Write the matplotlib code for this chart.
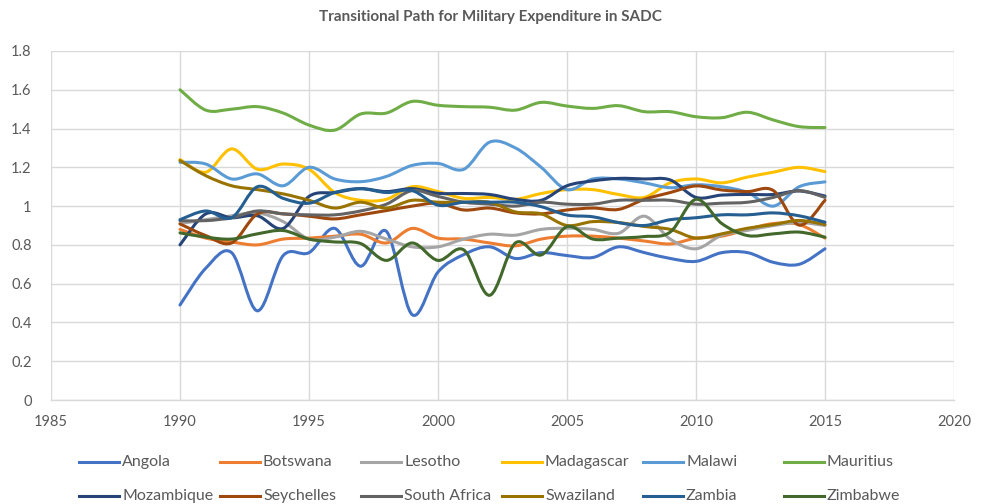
"""Transitional path for military expenditure in SADC (Excel-style smoothed lines)."""

import matplotlib
matplotlib.use("Agg")
import matplotlib.pyplot as plt
from matplotlib.path import Path
from matplotlib.patches import PathPatch
from matplotlib.lines import Line2D
import numpy as np

plt.rcParams["font.family"] = ["Lato", "DejaVu Sans"]

years = list(range(1990, 2016))

angola = [0.49, 0.68, 0.76, 0.46, 0.745, 0.76, 0.885, 0.69, 0.87, 0.44, 0.66, 0.75, 0.79,
          0.73, 0.76, 0.745, 0.735, 0.79, 0.76, 0.73, 0.715, 0.76, 0.76, 0.71, 0.70, 0.78]
botswana = [0.88, 0.835, 0.815, 0.80, 0.83, 0.835, 0.845, 0.855, 0.81, 0.885, 0.835, 0.83, 0.81,
            0.795, 0.83, 0.845, 0.845, 0.835, 0.82, 0.805, 0.835, 0.845, 0.88, 0.91, 0.905, 0.835]
lesotho = [0.91, 0.93, 0.95, 0.965, 0.92, 0.83, 0.84, 0.87, 0.83, 0.79, 0.79, 0.83, 0.855,
           0.85, 0.88, 0.886, 0.88, 0.86, 0.948, 0.83, 0.78, 0.85, 0.875, 0.90, 0.915, 0.90]
madagascar = [1.24, 1.175, 1.295, 1.19, 1.217, 1.19, 1.07, 1.03, 1.035, 1.10, 1.075, 1.04, 1.045,
              1.035, 1.065, 1.085, 1.085, 1.06, 1.045, 1.12, 1.14, 1.12, 1.15, 1.175, 1.20, 1.178]
malawi = [1.226, 1.217, 1.14, 1.166, 1.105, 1.20, 1.14, 1.126, 1.153, 1.21, 1.22, 1.19, 1.33,
          1.30, 1.20, 1.085, 1.14, 1.14, 1.12, 1.095, 1.11, 1.10, 1.07, 1.0, 1.10, 1.125]
mauritius = [1.60, 1.495, 1.50, 1.513, 1.48, 1.418, 1.392, 1.475, 1.48, 1.54, 1.52, 1.513, 1.51,
             1.495, 1.535, 1.516, 1.504, 1.518, 1.487, 1.487, 1.461, 1.456, 1.484, 1.444, 1.41, 1.405]
mozambique = [0.80, 0.96, 0.94, 0.95, 0.885, 1.05, 1.07, 1.09, 1.075, 1.09, 1.066, 1.065, 1.06,
              1.035, 1.03, 1.105, 1.13, 1.143, 1.14, 1.135, 1.045, 1.057, 1.06, 1.06, 1.078, 1.052]
seychelles = [0.908, 0.848, 0.81, 0.96, 0.96, 0.948, 0.934, 0.955, 0.977, 1.0, 1.015, 0.98, 0.99,
              0.965, 0.96, 0.98, 0.99, 0.983, 1.035, 1.07, 1.104, 1.083, 1.075, 1.08, 0.902, 1.03]
south_africa = [0.925, 0.925, 0.94, 0.975, 0.96, 0.955, 0.955, 0.975, 1.01, 1.08, 1.05, 1.02, 1.01,
                1.0, 1.02, 1.01, 1.01, 1.03, 1.03, 1.03, 1.01, 1.015, 1.02, 1.045, 1.08, 1.045]
swaziland = [1.235, 1.157, 1.105, 1.085, 1.063, 1.03, 0.99, 1.02, 0.99, 1.03, 1.02, 1.02, 1.02,
             0.97, 0.96, 0.90, 0.92, 0.915, 0.895, 0.88, 0.835, 0.857, 0.886, 0.905, 0.926, 0.905]
zambia = [0.93, 0.975, 0.94, 1.10, 1.04, 1.015, 1.07, 1.09, 1.07, 1.08, 1.005, 1.02, 1.02,
          1.02, 0.997, 0.954, 0.945, 0.915, 0.90, 0.93, 0.94, 0.955, 0.955, 0.965, 0.95, 0.917]
zimbabwe = [0.862, 0.84, 0.83, 0.857, 0.874, 0.83, 0.815, 0.807, 0.72, 0.81, 0.72, 0.774, 0.54,
            0.81, 0.748, 0.894, 0.83, 0.835, 0.843, 0.866, 1.035, 0.91, 0.848, 0.857, 0.866, 0.84]

countries = ["Angola", "Botswana", "Lesotho", "Madagascar", "Malawi", "Mauritius",
             "Mozambique", "Seychelles", "South Africa", "Swaziland", "Zambia", "Zimbabwe"]
series = [angola, botswana, lesotho, madagascar, malawi, mauritius,
          mozambique, seychelles, south_africa, swaziland, zambia, zimbabwe]
colors = ["#4472C4", "#ED7D31", "#A5A5A5", "#FFC000", "#5B9BD5", "#70AD47",
          "#264478", "#9E480E", "#636363", "#997300", "#255E91", "#43682B"]

x_ticks = [1985, 1990, 1995, 2000, 2005, 2010, 2015, 2020]
y_ticks = [0, 0.2, 0.4, 0.6, 0.8, 1.0, 1.2, 1.4, 1.6, 1.8]
y_tick_labels = ["0", "0.2", "0.4", "0.6", "0.8", "1", "1.2", "1.4", "1.6", "1.8"]

GRID = "#D9D9D9"
TEXT = "#595959"


def smooth_path(xs, ys):
    """Bezier path through the points, like Excel's 'smoothed line'."""
    pts = np.column_stack([xs, ys]).astype(float)
    n = len(pts)
    verts = [pts[0]]
    codes = [Path.MOVETO]
    for i in range(n - 1):
        p0 = pts[max(i - 1, 0)]
        p1 = pts[i]
        p2 = pts[i + 1]
        p3 = pts[min(i + 2, n - 1)]
        c1 = p1 + (p2 - p0) / 6.0
        c2 = p2 - (p3 - p1) / 6.0
        verts += [c1, c2, p2]
        codes += [Path.CURVE4] * 3
    return Path(verts, codes)


W, H = 981, 504
fig = plt.figure(figsize=(W / 100, H / 100), dpi=100)
fig.patch.set_facecolor("white")
ax = fig.add_axes([51 / W, 1 - 400 / H, (954 - 51) / W, (400 - 51) / H])

for vals, color in zip(series, colors):
    patch = PathPatch(smooth_path(years, vals), facecolor="none", edgecolor=color,
                      linewidth=2.2, capstyle="round", joinstyle="round", zorder=3)
    ax.add_patch(patch)

ax.set_xlim(1985, 2020)
ax.set_ylim(0, 1.8)
ax.set_xticks(x_ticks)
ax.set_xticklabels([str(t) for t in x_ticks])
ax.set_yticks(y_ticks)
ax.set_yticklabels(y_tick_labels)
ax.tick_params(length=0, labelsize=10.5, labelcolor=TEXT)
ax.tick_params(axis="x", pad=11)
ax.tick_params(axis="y", pad=14)
ax.grid(True, color=GRID, linewidth=1.0, zorder=0)
ax.set_axisbelow(True)
for side in ["top", "right", "left"]:
    ax.spines[side].set_visible(False)
ax.spines["bottom"].set_color(GRID)
ax.spines["bottom"].set_linewidth(1.0)

fig.text(490 / W, 1 - 17 / H, "Transitional Path for Military Expenditure in SADC",
         ha="center", va="center", fontsize=11, fontweight="bold", color=TEXT)

# Legend: 2 rows x 6 evenly spaced columns, as in Excel
for i, (name, color) in enumerate(zip(countries, colors)):
    col, row = i % 6, i // 6
    x0 = 79 + col * 141
    y = 1 - (462 + row * 34) / H
    fig.add_artist(Line2D([x0 / W, (x0 + 40) / W], [y, y], color=color, linewidth=2.2,
                          transform=fig.transFigure))
    fig.text((x0 + 43) / W, y, name, ha="left", va="center", fontsize=11.5, color=TEXT)

fig.savefig("out.png", dpi=100)
